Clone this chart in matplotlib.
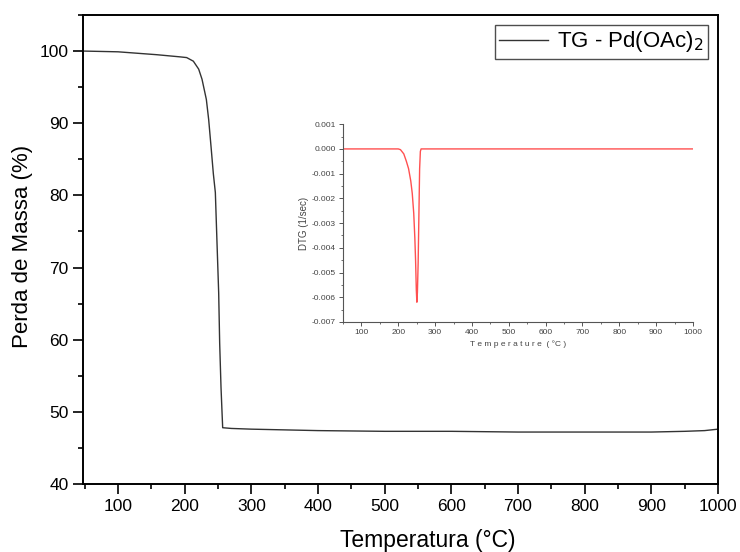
import numpy as np
import matplotlib
matplotlib.use('Agg')
import matplotlib.pyplot as plt
from matplotlib.ticker import MultipleLocator, FormatStrFormatter

plt.rcParams['font.family'] = ['Liberation Sans', 'DejaVu Sans']

# TG curve (main plot)
tg_temp = [50, 100, 158, 193, 203, 213, 221, 226, 232.5, 236, 239.5, 243, 246, 248.5,
           251, 252.5, 254.5, 256, 257, 270, 300, 400, 500, 600, 700, 800, 900, 950,
           980, 1000]
tg_mass = [100.0, 99.9, 99.5, 99.2, 99.1, 98.6, 97.5, 96.1, 93.3, 90.5, 86.8, 83.0, 80.4,
           73.4, 66.5, 59.5, 53.4, 50.0, 47.8, 47.7, 47.6, 47.4, 47.3, 47.3, 47.2, 47.2,
           47.2, 47.3, 47.4, 47.6]

# DTG curve (inset)
dtg_temp = [50, 100, 150, 200, 206, 215, 222, 228, 234, 238, 242, 245, 247, 249, 250.5,
            252, 254, 256, 258, 260, 262, 300, 400, 500, 600, 700, 800, 900, 1000]
dtg_val = [0.0, 0.0, 0.0, 0.0, -0.00003, -0.0002, -0.0005, -0.0008, -0.0013, -0.0018,
           -0.0026, -0.0036, -0.0045, -0.0057, -0.0062, -0.0058, -0.0046, -0.0027,
           -0.0008, -0.0001, 0.0, 0.0, 0.0, 0.0, 0.0, 0.0, 0.0, 0.0, 0.0]

fig = plt.figure(figsize=(7.4, 5.52), dpi=100)
ax = fig.add_axes([0.1122, 0.1232, 0.858, 0.8496])

ax.plot(tg_temp, tg_mass, color='#333333', lw=1.0, label='TG - Pd(OAc)$_2$')
ax.set_xlim(47.5, 1000)
ax.set_ylim(40, 105)
ax.xaxis.set_major_locator(MultipleLocator(100))
ax.xaxis.set_minor_locator(MultipleLocator(50))
ax.yaxis.set_minor_locator(MultipleLocator(5))
ax.set_yticks(range(40, 101, 10))
ax.tick_params(which='major', direction='out', length=7, width=1.2, labelsize=12.5)
ax.tick_params(which='minor', direction='out', length=3.5, width=1.2)
for s in ax.spines.values():
    s.set_linewidth(1.4)
ax.set_xlabel('Temperatura (°C)', fontsize=16.5)
ax.set_ylabel('Perda de Massa (%)', fontsize=16)
ax.xaxis.set_label_coords(0.543, -0.096)
ax.yaxis.set_label_coords(-0.079, 0.5075)

leg = ax.legend(loc='upper right', fontsize=16, frameon=True, fancybox=False,
                handlelength=2.2, handletextpad=0.4, borderaxespad=0.45,
                borderpad=0.2)
leg.get_frame().set_edgecolor('#222222')
leg.get_frame().set_linewidth(1.0)

# inset with DTG
ins = fig.add_axes([0.4635, 0.4167, 0.473, 0.3583])
ins.plot(dtg_temp, dtg_val, color='#ff5050', lw=1.0)
ins.set_xlim(50, 1000)
ins.set_ylim(-0.007, 0.001)
ins.spines['top'].set_visible(False)
ins.spines['right'].set_visible(False)
for s in ['left', 'bottom']:
    ins.spines[s].set_color('#555555')
    ins.spines[s].set_linewidth(0.8)
ins.xaxis.set_minor_locator(MultipleLocator(50))
ins.yaxis.set_major_locator(MultipleLocator(0.001))
ins.yaxis.set_minor_locator(MultipleLocator(0.0005))
ins.yaxis.set_major_formatter(FormatStrFormatter('%.3f'))
ins.set_xticks(range(100, 1001, 100))
ins.tick_params(which='major', direction='out', length=3, width=0.7, labelsize=6,
                colors='#555555', labelcolor='#444444', pad=2)
ins.tick_params(which='minor', direction='out', length=1.5, width=0.6, colors='#555555')
ins.set_xlabel('T e m p e r a t u r e  ( °C )', fontsize=6, color='#444444', labelpad=3)
ins.set_ylabel('DTG (1/sec)', fontsize=7, color='#444444', labelpad=2)

fig.savefig('out.png', dpi=100)
